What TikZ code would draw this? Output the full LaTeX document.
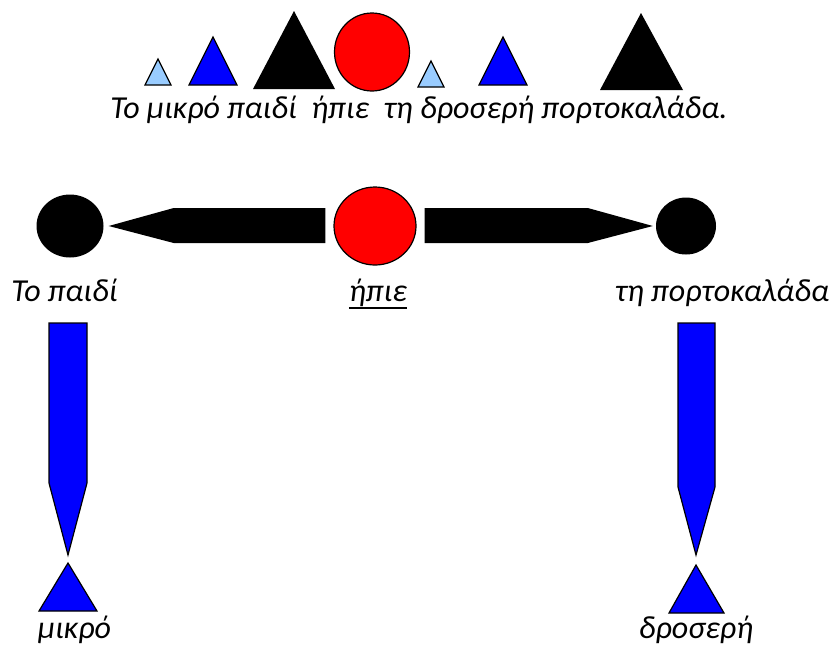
\documentclass[tikz,border=0pt]{standalone}
\usepackage{fontspec}
\setmainfont{Carlito}
\usetikzlibrary{shapes.geometric,calc}
\definecolor{lightblue}{RGB}{153,204,255}
\definecolor{pureblue}{RGB}{0,0,255}
\definecolor{purered}{RGB}{255,0,0}
\tikzset{
  lbl/.style={anchor=base, inner sep=0pt},
  bluefill/.style={fill=pureblue, draw=black, line width=1.2pt, line join=miter},
  ltfill/.style={fill=lightblue, draw=black, line width=1.2pt, line join=miter},
  redfill/.style={fill=purered, draw=black, line width=1.2pt},
  dot/.style={ellipse, fill=black, inner sep=0pt},
  armfill/.style={fill=black},
}
\begin{document}
\begin{tikzpicture}[x=1pt, y=-1pt, font=\fontsize{32}{38}\selectfont\itshape]
\useasboundingbox (0,0) rectangle (834,649);
% top row: sentence with symbols
\draw[ltfill] (145,85) -- (158,59) -- (171,85) -- cycle;
\draw[bluefill] (189,85) -- (213,37) -- (237,85) -- cycle;
\fill[armfill] (253,89) -- (294,11) -- (335,89) -- cycle;
\draw[redfill] (372,52) ellipse [x radius=37.5pt, y radius=39pt];
\draw[ltfill] (418,87) -- (431,61) -- (444,87) -- cycle;
\draw[bluefill] (479,85) -- (503,37) -- (527,85) -- cycle;
\fill[armfill] (600,90) -- (641,13) -- (683,90) -- cycle;
\node[lbl] (sent) at (419,118) {Το μικρό παιδί\ \ ήπιε\ \ τη δροσερή πορτοκαλάδα.};
% middle row
\node[dot, minimum width=67pt, minimum height=63pt] (subj) at (70,226) {};
\node[ellipse, inner sep=0pt, redfill, minimum width=82pt, minimum height=78pt] (verb) at (375,226) {};
\node[dot, minimum width=60pt, minimum height=57pt] (obj) at (686,226) {};
\fill[armfill] ($(verb.west)+(-8,-18)$) -- ($(subj.east)+(70,-18)$) -- ($(subj.east)+(5,0)$)
  -- ($(subj.east)+(70,17)$) -- ($(verb.west)+(-8,17)$) -- cycle;
\fill[armfill] ($(verb.east)+(8,-18)$) -- ($(obj.west)+(-68,-18)$) -- ($(obj.west)+(-3,0)$)
  -- ($(obj.west)+(-68,17)$) -- ($(verb.east)+(8,17)$) -- cycle;
\node[lbl] (subjlbl) at (64.5,301) {Το παιδί};
\node[lbl] (verblbl) at (378,301) {ήπιε};
\draw[line width=1.8pt] ($(verblbl.base west)+(0,7)$) -- ($(verblbl.base east)+(0,7)$);
\node[lbl] (objlbl) at (722,301) {τη πορτοκαλάδα};
% bottom: modifiers
\coordinate (t1) at (68,563);
\coordinate (t2) at (696,565);
\draw[bluefill] (49,323) -- (87,323) -- (87,483) -- ($(t1)+(0,-8)$) -- (49,483) -- cycle;
\draw[bluefill] (678,323) -- (715,323) -- (715,487) -- ($(t2)+(0,-10)$) -- (678,487) -- cycle;
\draw[bluefill] (39,611) -- (t1) -- (97,611) -- cycle;
\draw[bluefill] (669,613) -- (t2) -- (724,613) -- cycle;
\node[lbl] (adj1) at (74.5,638) {μικρό};
\node[lbl] (adj2) at (696,638) {δροσερή};
\end{tikzpicture}
\end{document}
